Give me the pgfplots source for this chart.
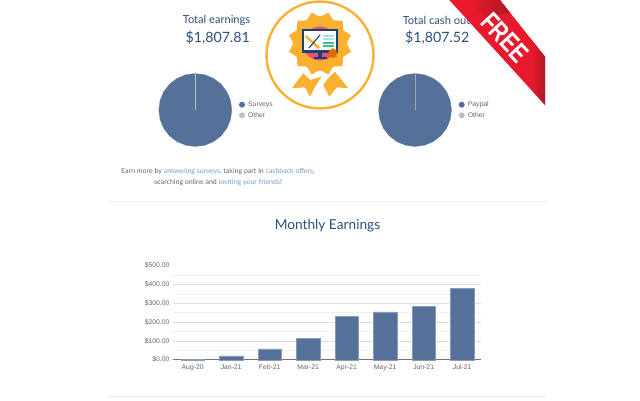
\documentclass[border=0pt]{standalone}
\usepackage{fontspec}
\setmainfont{Lato}
\newfontfamily\arial{Liberation Sans}
\usepackage{pgfplots}
\usepackage{pgfplotstable}
\pgfplotsset{compat=1.18}
\usetikzlibrary{shapes.geometric}
\definecolor{barblue}{HTML}{557199}
\definecolor{navy}{HTML}{2F4F7F}
\definecolor{linkblue}{HTML}{6E9BD8}
\definecolor{txtgray}{HTML}{666666}
\definecolor{gridc}{HTML}{DEDEDE}
\definecolor{gridm}{HTML}{F0F0F0}
\definecolor{orangeb}{HTML}{FAB12F}
\definecolor{redr}{HTML}{E8192C}
\definecolor{redd}{HTML}{B01825}
\definecolor{pinkc}{HTML}{E9536F}
\definecolor{cyanl}{HTML}{A9DDF0}
\definecolor{greenl}{HTML}{3FBF8F}
\definecolor{monitor}{HTML}{1F3F78}
\pgfplotstableread{
x y
1.0000 0.0000
0.9659 0.2588
0.8660 0.5000
0.7071 0.7071
0.5000 0.8660
0.2588 0.9659
0.0000 1.0000
-0.2588 0.9659
-0.5000 0.8660
-0.7071 0.7071
-0.8660 0.5000
-0.9659 0.2588
-1.0000 0.0000
-0.9659 -0.2588
-0.8660 -0.5000
-0.7071 -0.7071
-0.5000 -0.8660
-0.2588 -0.9659
0.0000 -1.0000
0.2588 -0.9659
0.5000 -0.8660
0.7071 -0.7071
0.8660 -0.5000
0.9659 -0.2588
}\piedisc
\pgfplotstableread{
idx value
0 2
1 21
2 58
3 113
4 232
5 255
6 285
7 378
}\monthly
\pgfplotsset{pieaxis/.style={
  hide axis, scale only axis, width=73pt, height=73pt,
  xmin=-1, xmax=1, ymin=-1, ymax=1, clip=false}}
\begin{document}
\begin{tikzpicture}
\useasboundingbox (0,0) rectangle (640pt,400pt);
\fill[white] (0,0) rectangle (640pt,400pt);
% pies
\begin{axis}[pieaxis, anchor=center, at={(195.3pt,290pt)}]
\addplot[fill=barblue, draw=barblue, line width=0.2pt] table[x=x,y=y] {\piedisc} -- cycle;
\addplot[color=black!25, line width=0.5pt] coordinates {(0,0) (0,1)};
\end{axis}
\begin{axis}[pieaxis, anchor=center, at={(415pt,290pt)}]
\addplot[fill=barblue, draw=barblue, line width=0.2pt] table[x=x,y=y] {\piedisc} -- cycle;
\addplot[color=black!35, line width=1pt] coordinates {(0,0) (0,1)};
\end{axis}
% bars
\begin{axis}[
  scale only axis, anchor=south west, at={(173.4pt,40.3pt)},
  width=308pt, height=94pt,
  xmin=-0.5, xmax=7.5, ymin=0, ymax=500,
  axis x line=bottom, axis y line=left,
  axis line style={-},
  x axis line style={draw=black!55, line width=0.6pt},
  y axis line style={draw=none},
  major tick length=0pt, minor tick length=0pt,
  xtick={0,...,7},
  xticklabels={Aug-20,Jan-21,Feb-21,Mar-21,Apr-21,May-21,Jun-21,Jul-21},
  ytick={0,100,200,300,400},
  yticklabels={\$0.00,\$100.00,\$200.00,\$300.00,\$400.00},
  extra y ticks={500},
  extra y tick labels={\$500.00},
  extra y tick style={grid=none},
  minor ytick={50,150,250,350,450},
  ymajorgrids, yminorgrids,
  major grid style={gridc, line width=0.6pt},
  minor grid style={gridm, line width=0.6pt},
  tick label style={font=\arial\fontsize{6.8}{8}\selectfont, text=txtgray},
  xticklabel style={yshift=-1.5pt},
  yticklabel style={xshift=-0.5pt},
  clip=false,
]
\addplot[ybar, bar width=23.2pt, bar shift=0pt, fill=barblue, draw=barblue!70!white, line width=0.4pt] table[x=idx,y=value] {\monthly};
\end{axis}
\begin{scope}[x=1pt,y=-1pt,yshift=400pt]
% separators
\draw[black!8, line width=0.7pt] (108,201) -- (546,201);
\draw[black!8, line width=0.7pt] (108,396) -- (546,396);
% headings
\node[text=navy, font=\fontsize{11.1}{13}\selectfont] at (216.5,20) {Total earnings};
\node[text=navy, font=\fontsize{14.2}{16}\selectfont] at (217.7,37.5) {\$1,807.81};
\node[text=navy, font=\fontsize{11.1}{13}\selectfont] at (436.5,20) {Total cash out};
\node[text=navy, font=\fontsize{14.2}{16}\selectfont] at (437.3,37.5) {\$1,807.52};
\node[text=navy, font=\fontsize{13.7}{16}\selectfont] at (327.5,226) {Monthly Earnings};
% paragraph
\node[text=txtgray, font=\fontsize{7}{9}\selectfont] at (218,172) {Earn more by \textcolor{linkblue}{answering surveys}, taking part in \textcolor{linkblue}{cashback offers},};
\node[text=txtgray, font=\fontsize{7}{9}\selectfont] at (218,183) {searching online and \textcolor{linkblue}{inviting your friends}!};
% pie legends
\fill[barblue] (242,104.7) circle (3);
\fill[black!25] (242,115.3) circle (3);
\node[anchor=west, inner sep=0, text=txtgray, font=\arial\fontsize{6.8}{8}\selectfont] at (248,104.7) {Surveys};
\node[anchor=west, inner sep=0, text=txtgray, font=\arial\fontsize{6.8}{8}\selectfont] at (248,115.3) {Other};
\fill[barblue] (461.7,104.7) circle (3);
\fill[black!25] (461.7,115.3) circle (3);
\node[anchor=west, inner sep=0, text=txtgray, font=\arial\fontsize{6.8}{8}\selectfont] at (467.7,104.7) {Paypal};
\node[anchor=west, inner sep=0, text=txtgray, font=\arial\fontsize{6.8}{8}\selectfont] at (467.7,115.3) {Other};
% badge
\fill[white] (320,55) circle (54);
\draw[orangeb, line width=2.4pt] (320,55) circle (53.5);
\fill[orangeb] (291.7,88.3) -- (303.3,73.3) -- (310,80) -- (321.7,76.7) -- (315,86.7) -- (310,96.7) -- (305,87.3) -- cycle;
\fill[orangeb] (335,71.7) -- (348.3,88.3) -- (336.7,87.3) -- (329.3,96.7) -- (323.3,85) -- (328.3,78.3) -- cycle;
\node[star, star points=12, star point ratio=1.2, shape border rotate=15, fill=orangeb, inner sep=0, minimum size=64pt, draw=none] at (320,43.5) {};
\fill[pinkc] (320,43.5) circle (17);
\fill[monitor] (302,29.3) rectangle (338.3,53.3);
\fill[white] (304.2,31.5) rectangle (336.1,50.5);
\fill[monitor] (318.3,53) rectangle (322.3,57);
\fill[monitor] (314,56.8) rectangle (326.7,59);
\fill[orangeb] (306,35) -- (320,47) -- (318,49) -- (305,37) -- cycle;
\draw[monitor, line width=1.1pt] (320,35) -- (309,48);
\foreach \yy/\cc in {35/cyanl,38.5/cyanl,42/greenl,45/greenl}{\fill[\cc] (323,\yy) rectangle (333.5,\yy+2);}
\node[star, star points=8, star point ratio=1.4, fill=orange!85!black, inner sep=0, minimum size=11pt] at (332.7,53.3) {};
% free ribbon
\fill[redr] (449.3,0) -- (500,0) -- (545,56.7) -- (545,105) -- cycle;
\shade[left color=redr, right color=redd] (532,40.3) -- (545,56.7) -- (545,105) -- (532,90.5) -- cycle;
\shade[left color=redr, right color=redd] (470,0) -- (500,0) -- (510,12.6) -- (485,18) -- cycle;
\node[rotate=-47, xscale=0.78, text=white, font=\arial\bfseries\fontsize{27}{28}\selectfont, inner sep=0] at (505,37.5) {FREE};
\end{scope}
\end{tikzpicture}
\end{document}
